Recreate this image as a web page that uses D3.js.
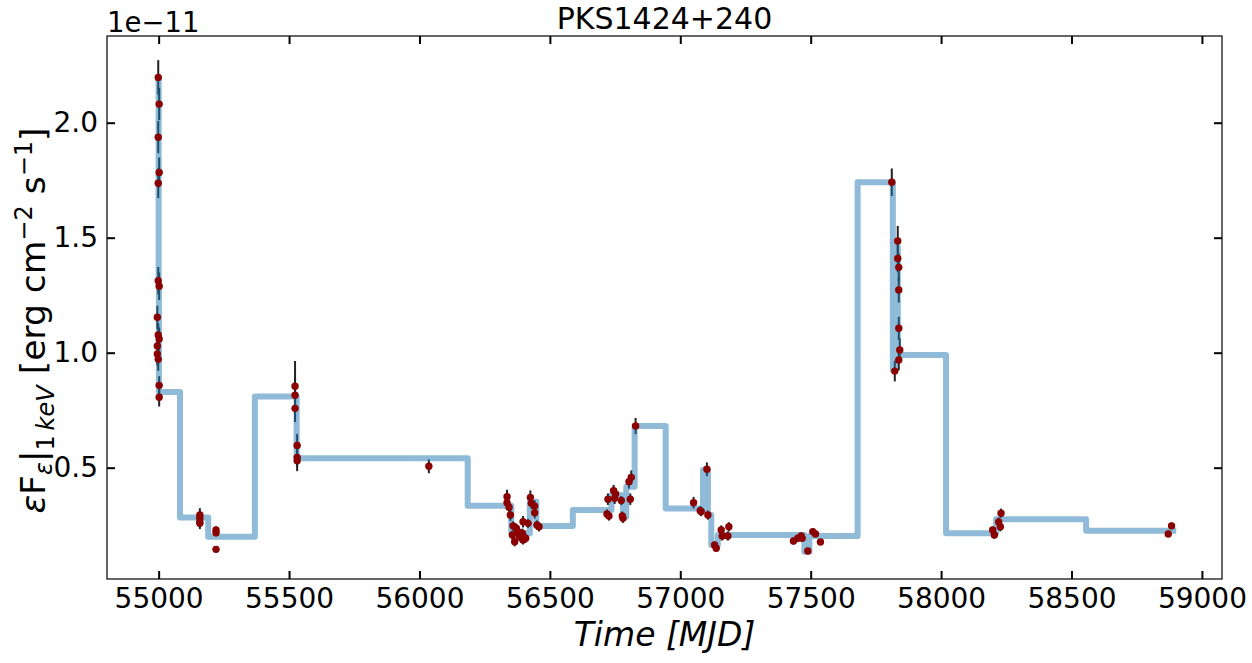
<!DOCTYPE html>
<html>
<head>
<meta charset="utf-8">
<script src="https://cdn.jsdelivr.net/npm/d3@7"></script>
<style>
  html, body { margin: 0; padding: 0; background: #fff; }
  svg { display: block; font-family: "DejaVu Sans", sans-serif; }
</style>
</head>
<body>
<svg id="chart" width="1252" height="663"></svg>
<script>
// ---- data (flux in units of 1e-11 erg cm^-2 s^-1) ----
const title = "PKS1424+240";
const xTicks = [55000, 55500, 56000, 56500, 57000, 57500, 58000, 58500, 59000];
const yTicks = [0.5, 1.0, 1.5, 2.0];
const yTickLabels = ["0.5", "1.0", "1.5", "2.0"];
const offsetText = "1e\u221211";

const obsTime = [
  54998.5, 55002, 54998.5, 55002, 54998.5, 54998.5, 55002, 54995, 54998.5, 55002, 54995, 54995, 54998.5, 55002, 55002,
  55158, 55158, 55158, 55158, 55220, 55220, 55220,
  55523, 55523, 55523, 55531, 55531, 55531,
  56036,
  56335.8, 56335.8, 56343.4, 56348.5, 56358.8, 56371.5, 56356.2, 56365.1, 56377.9, 56384.3, 56397.1, 56397.1, 56407.3, 56416.2, 56394.5,
  56425.2, 56429, 56441.8, 56441.8, 56450.7, 56458.4,
  56722.7, 56718.9, 56726.6, 56744.4, 56752.1, 56748.3, 56773.8, 56777.7, 56780.2, 56808.3, 56803.2, 56812.1, 56828.7,
  57051, 57076.5, 57080.4, 57102.1, 57105.9, 57131.4, 57137.8, 57157, 57160.8, 57182.5, 57186.3,
  57434, 57450.7, 57463.5, 57467.3, 57489, 57508.1, 57518.4, 57537.5,
  57810.9, 57833.8, 57833.8, 57837.7, 57837.7, 57837.7, 57841.5, 57837.7, 57822.4,
  58229.8, 58220.8, 58227.2, 58197.8, 58204.2,
  58883.6, 58870.9
];
const obsFlux = [
  2.197, 2.081, 1.937, 1.784, 1.737, 1.313, 1.289, 1.154, 1.077, 1.060, 1.029, 0.994, 0.971, 0.858, 0.806,
  0.294, 0.280, 0.265, 0.258, 0.229, 0.217, 0.145,
  0.854, 0.815, 0.758, 0.597, 0.545, 0.530,
  0.506,
  0.374, 0.348, 0.328, 0.294, 0.247, 0.237, 0.207, 0.178, 0.222, 0.200, 0.265, 0.186, 0.193, 0.258, 0.215,
  0.371, 0.345, 0.333, 0.304, 0.251, 0.243,
  0.363, 0.299, 0.290, 0.400, 0.386, 0.367, 0.357, 0.290, 0.280, 0.363, 0.439, 0.458, 0.681,
  0.348, 0.313, 0.309, 0.493, 0.294, 0.164, 0.150, 0.229, 0.203, 0.203, 0.243,
  0.181, 0.193, 0.203, 0.193, 0.138, 0.222, 0.212, 0.177,
  1.741, 1.486, 1.410, 1.371, 1.273, 1.106, 1.012, 0.968, 0.920,
  0.302, 0.264, 0.243, 0.229, 0.207,
  0.247, 0.212
];
const obsErr = [
  0.075, 0.07, 0.07, 0.065, 0.065, 0.06, 0.06, 0.05, 0.05, 0.05, 0.05, 0.05, 0.05, 0.04, 0.04,
  0.03, 0.025, 0.025, 0.025, 0.015, 0.015, 0.01,
  0.11, 0.08, 0.06, 0.05, 0.04, 0.045,
  0.03,
  0.03, 0.025, 0.025, 0.025, 0.02, 0.02, 0.02, 0.02, 0.02, 0.02, 0.025, 0.02, 0.02, 0.02, 0.02,
  0.03, 0.025, 0.025, 0.025, 0.02, 0.02,
  0.025, 0.02, 0.02, 0.025, 0.025, 0.025, 0.02, 0.02, 0.02, 0.025, 0.03, 0.03, 0.035,
  0.025, 0.02, 0.02, 0.03, 0.02, 0.015, 0.015, 0.02, 0.02, 0.02, 0.02,
  0.015, 0.015, 0.015, 0.015, 0.012, 0.015, 0.015, 0.012,
  0.06, 0.065, 0.06, 0.06, 0.055, 0.05, 0.05, 0.045, 0.045,
  0.02, 0.02, 0.02, 0.015, 0.015,
  0.015, 0.015
];

// Bayesian-block style step curve: block edges and block values
const blockEdges = [54999, 55000, 55001, 55082, 55190, 55369, 55529, 56185, 56352, 56423, 56448, 56588,
  56736, 56780, 56793, 56825, 56944, 57087, 57106, 57119, 57144, 57476, 57495, 57680,
  57815, 57822, 57834, 58019, 58211, 58556, 58890];
const blockValues = [2.19, 1.30, 0.829, 0.283, 0.200, 0.810, 0.541, 0.335, 0.215, 0.352, 0.246,
  0.316, 0.380, 0.287, 0.417, 0.681, 0.323, 0.490, 0.294, 0.164, 0.207, 0.135, 0.203,
  1.741, 0.925, 1.460, 0.990, 0.215, 0.276, 0.226];

// ---- layout ----
const svg = d3.select("#chart");
const L = 107, R = 1222, T = 36, B = 579;
const x = d3.scaleLinear().domain([54802, 59077]).range([L, R]);
const y = d3.scaleLinear().domain([0.016, 2.377]).range([B, T]);

const plot = svg.append("g");

// error bars
plot.append("g").selectAll("line").data(obsTime).join("line")
  .attr("x1", (d) => x(d)).attr("x2", (d) => x(d))
  .attr("y1", (d, i) => y(obsFlux[i] - obsErr[i]))
  .attr("y2", (d, i) => y(obsFlux[i] + obsErr[i]))
  .attr("stroke", "#222").attr("stroke-width", 2);

// step line
const stepPts = [];
blockValues.forEach((v, i) => {
  stepPts.push([blockEdges[i], v]);
  stepPts.push([blockEdges[i + 1], v]);
});
plot.append("path")
  .attr("d", d3.line().x((d) => x(d[0])).y((d) => y(d[1]))(stepPts))
  .attr("fill", "none")
  .attr("stroke", "#1f77b4").attr("stroke-opacity", 0.5)
  .attr("stroke-width", 6)
  .attr("stroke-linejoin", "round").attr("stroke-linecap", "square");

// points
plot.append("g").selectAll("circle").data(obsTime).join("circle")
  .attr("cx", (d) => x(d)).attr("cy", (d, i) => y(obsFlux[i]))
  .attr("r", 3.7).attr("fill", "#8b0000");

// ---- axes (ticks inward on all sides) ----
const tickLen = 8;
const axB = svg.append("g").attr("transform", `translate(0,${B})`)
  .call(d3.axisBottom(x).tickValues(xTicks).tickSizeInner(-tickLen).tickSizeOuter(0).tickPadding(9).tickFormat(d3.format("d")));
const axT = svg.append("g").attr("transform", `translate(0,${T})`)
  .call(d3.axisTop(x).tickValues(xTicks).tickSizeInner(-tickLen).tickSizeOuter(0).tickFormat(""));
const axL = svg.append("g").attr("transform", `translate(${L},0)`)
  .call(d3.axisLeft(y).tickValues(yTicks).tickSizeInner(-tickLen).tickSizeOuter(0).tickPadding(9)
    .tickFormat((d, i) => yTickLabels[i]));
const axR = svg.append("g").attr("transform", `translate(${R},0)`)
  .call(d3.axisRight(y).tickValues(yTicks).tickSizeInner(-tickLen).tickSizeOuter(0).tickFormat(""));

[axB, axT, axL, axR].forEach((a) => {
  a.attr("font-family", "DejaVu Sans").attr("font-size", 28);
  a.select(".domain").remove();
  a.selectAll(".tick line").attr("stroke", "#000").attr("stroke-width", 2);
  a.selectAll(".tick text").attr("font-family", "DejaVu Sans").attr("font-size", 28).attr("fill", "#000");
});
axB.selectAll(".tick text").attr("dy", "0.71em");

// frame
svg.append("rect").attr("x", L).attr("y", T).attr("width", R - L).attr("height", B - T)
  .attr("fill", "none").attr("stroke", "#000").attr("stroke-width", 1.2);

// offset text
svg.append("text").attr("x", L).attr("y", 32).attr("font-size", 27.5).text(offsetText);

// title
svg.append("text").attr("x", (L + R) / 2).attr("y", 29).attr("text-anchor", "middle")
  .attr("font-size", 30).text(title);

// x label
svg.append("text").attr("x", (L + R) / 2).attr("y", 646).attr("text-anchor", "middle")
  .attr("font-size", 33).attr("font-style", "italic").text("Time [MJD]");

// y label
const yl = svg.append("text").attr("transform", `translate(45,${(T + B) / 2 + 13}) rotate(-90)`)
  .attr("text-anchor", "middle").attr("font-size", 34.5);
yl.append("tspan").attr("font-style", "italic").text("\u03b5");
yl.append("tspan").text("F");
yl.append("tspan").attr("font-size", 24).attr("font-style", "italic").attr("dy", 7).text("\u03b5");
yl.append("tspan").attr("dy", -7).text("|");
yl.append("tspan").attr("font-size", 24).attr("dy", 9).text("1\u2009");
yl.append("tspan").attr("font-size", 24).attr("font-style", "italic").text("keV");
yl.append("tspan").attr("dy", -9).text(" [erg cm");
yl.append("tspan").attr("font-size", 24).attr("dy", -13).text("\u22122");
yl.append("tspan").attr("dy", 13).text(" s");
yl.append("tspan").attr("font-size", 24).attr("dy", -13).text("\u22121");
yl.append("tspan").attr("dy", 13).text("]");
</script>
</body>
</html>
